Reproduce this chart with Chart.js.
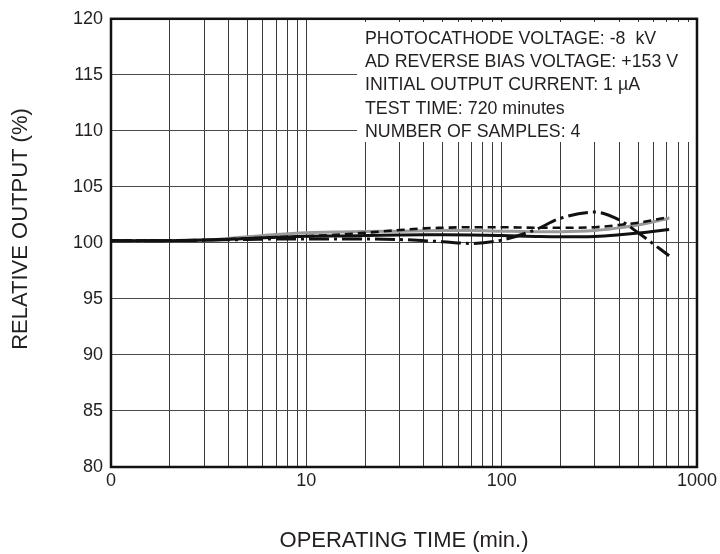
<!DOCTYPE html>
<html>
<head>
<meta charset="utf-8">
<script src="https://cdn.jsdelivr.net/npm/chart.js@4.4.1/dist/chart.umd.min.js"></script>
<style>
  html, body { margin: 0; padding: 0; background: #fff; }
  #wrap { width: 720px; height: 554px; position: relative; }
</style>
</head>
<body>
<div id="wrap"><canvas id="c" width="720" height="554"></canvas></div>
<script>
// ---- data ----
const TIME = [1, 2, 3, 5, 7, 10, 15, 20, 30, 40, 50, 70, 100, 150, 200, 300, 400, 500, 720];
const SAMPLE_SOLID  = [100.2, 100.2, 100.25, 100.4, 100.5, 100.6, 100.62, 100.65, 100.7, 100.72, 100.72, 100.7, 100.65, 100.58, 100.55, 100.58, 100.72, 100.88, 101.2];
const SAMPLE_GRAY   = [100.2, 100.2, 100.25, 100.55, 100.75, 100.9, 100.98, 101.02, 101.05, 101.08, 101.1, 101.1, 101.05, 101.0, 101.0, 101.1, 101.35, 101.6, 102.2];
const SAMPLE_DASHED = [100.2, 100.2, 100.25, 100.4, 100.5, 100.6, 100.75, 100.9, 101.15, 101.3, 101.35, 101.4, 101.4, 101.35, 101.35, 101.4, 101.6, 101.8, 102.3];
const SAMPLE_DASHDOT= [100.2, 100.2, 100.25, 100.3, 100.35, 100.35, 100.35, 100.35, 100.3, 100.2, 100.1, 99.95, 100.25, 101.2, 102.2, 102.75, 102.05, 100.9, 98.85];
const X_TICK_LABELS = {1: '0', 10: '10', 100: '100', 1000: '1000'};
const Y_TICKS = [80, 85, 90, 95, 100, 105, 110, 115, 120];
const NOTE_LINES = [
  'PHOTOCATHODE VOLTAGE: -8  kV',
  'AD REVERSE BIAS VOLTAGE: +153 V',
  'INITIAL OUTPUT CURRENT: 1 \u00B5A',
  'TEST TIME: 720 minutes',
  'NUMBER OF SAMPLES: 4'
];
const X_TITLE = 'OPERATING TIME (min.)';
const Y_TITLE = 'RELATIVE OUTPUT (%)';

const FONT = '"Liberation Sans", Arial, Helvetica, sans-serif';
const INK = '#231f20';

function pts(ys) { return TIME.map((t, i) => ({x: t, y: ys[i]})); }

const decorPlugin = {
  id: 'decor',
  beforeDatasetsDraw(chart) {
    const {ctx, chartArea: a} = chart;
    // note box
    ctx.save();
    ctx.fillStyle = '#fff';
    ctx.fillRect(357, 22, a.right - 1 - 357, 142 - 22);
    ctx.fillStyle = INK;
    ctx.font = '17.8px ' + FONT;
    ctx.textBaseline = 'alphabetic';
    ctx.textAlign = 'left';
    NOTE_LINES.forEach((s, i) => ctx.fillText(s, 365, 44 + i * 23.2));
    ctx.restore();
  },
  afterDraw(chart) {
    const {ctx, chartArea: a} = chart;
    ctx.save();
    ctx.strokeStyle = '#111';
    ctx.lineWidth = 2.5;
    ctx.strokeRect(a.left, a.top, a.right - a.left, a.bottom - a.top);
    // y title
    ctx.fillStyle = INK;
    ctx.font = '22px ' + FONT;
    ctx.textAlign = 'center';
    ctx.textBaseline = 'middle';
    ctx.translate(21, 229);
    ctx.rotate(-Math.PI / 2);
    ctx.fillText(Y_TITLE, 0, 0);
    ctx.restore();
  }
};

new Chart(document.getElementById('c'), {
  type: 'line',
  data: {
    datasets: [
      { label: 'dashed', data: pts(SAMPLE_DASHED), borderColor: '#111', borderWidth: 2.6, borderDash: [8, 5] },
      { label: 'solid', data: pts(SAMPLE_SOLID), borderColor: '#111', borderWidth: 3 },
      { label: 'dashdot', data: pts(SAMPLE_DASHDOT), borderColor: '#111', borderWidth: 3, borderDash: [20, 5, 3, 5] },
      { label: 'gray', data: pts(SAMPLE_GRAY), borderColor: '#9a9a9a', borderWidth: 3 }
    ]
  },
  options: {
    responsive: false,
    animation: false,
    devicePixelRatio: 1,
    layout: { padding: { left: 0, top: 14, right: 23, bottom: 0 } },
    elements: { point: { radius: 0 }, line: { cubicInterpolationMode: 'monotone', fill: false } },
    plugins: { legend: { display: false }, tooltip: { enabled: false } },
    scales: {
      x: {
        type: 'logarithmic', min: 1, max: 1000,
        afterBuildTicks(scale) {
          const t = [];
          [1, 10, 100].forEach(d => { for (let k = 1; k < 10; k++) t.push({value: d * k}); });
          t.push({value: 1000});
          scale.ticks = t;
        },
        afterFit(scale) { scale.height = 87; },
        ticks: {
          autoSkip: false, maxRotation: 0, padding: 3, color: INK,
          font: { family: FONT, size: 18 },
          callback(v) { return X_TICK_LABELS[v] !== undefined ? X_TICK_LABELS[v] : ''; }
        },
        grid: { color: '#3a3a3a', lineWidth: 1, drawTicks: false },
        border: { display: false },
        title: { display: true, text: X_TITLE, color: INK, font: { family: FONT, size: 22 }, padding: { top: 0, bottom: 0 } }
      },
      y: {
        min: 80, max: 120,
        afterBuildTicks(scale) { scale.ticks = Y_TICKS.map(v => ({value: v})); },
        afterFit(scale) { scale.width = 111; },
        ticks: { padding: 8, color: INK, font: { family: FONT, size: 18 } },
        grid: { color: '#4a4a4a', lineWidth: 1, drawTicks: false },
        border: { display: false }
      }
    }
  },
  plugins: [decorPlugin]
});
</script>
</body>
</html>
